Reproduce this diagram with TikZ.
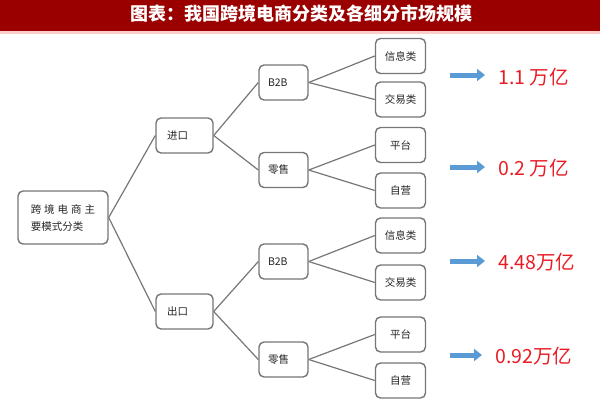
\documentclass[tikz,border=0pt]{standalone}
\usepackage{fontspec}
\newfontfamily\cjk{Noto Sans CJK SC}
\usetikzlibrary{arrows.meta}
\definecolor{titlered}{RGB}{155,0,0}
\definecolor{boxgray}{RGB}{118,118,118}
\definecolor{flowblue}{RGB}{91,155,213}
\definecolor{valred}{RGB}{232,28,36}

\begin{document}
\begin{tikzpicture}
	[x=1pt,y=-1pt,
	every node/.style={font=\cjk\fontsize{10.5}{13}\selectfont,text=black!85},
	box/.style={draw=boxgray,line width=1.4pt,rounded corners=5pt,fill=white,minimum height=35pt},
	rootbox/.style={box,minimum width=90pt,minimum height=53pt,align=left,inner xsep=12pt},
	sidebox/.style={box,inner xsep=11pt,text width=35pt,align=left},
	midbox/.style={box,inner xsep=9pt,text width=31pt,align=left},
	leafbox/.style={box,minimum width=50pt,inner xsep=2pt},
	link/.style={draw=boxgray,line width=1.2pt},
	flow/.style={draw=flowblue,line width=5pt,-{Triangle[length=8pt,width=12pt]},shorten >=13pt},
	value/.style={anchor=west,inner sep=0pt,text=valred,font=\cjk\fontsize{19.5}{22}\selectfont}]
	\useasboundingbox (0,0) rectangle (600,400);
	% title bar
	\fill[titlered] (0,0) rectangle (600,31);
	\fill[red!20] (0,31) rectangle (600,33.5);
	\node[text=white,font=\cjk\bfseries\fontsize{18}{20}\selectfont] (title) at (301,14) {图表：我国跨境电商分类及各细分市场规模};
	% tree
	\node[rootbox] (root) at (63,217.5) {跨\hspace{3pt}境\hspace{3pt}电\hspace{3pt}商\hspace{3pt}主\\[4pt]要模式分类};
	\node[sidebox] (imp) at (184.5,135.5) {进口};
	\node[sidebox] (exp) at (184.5,311.5) {出口};
	\node[midbox] (impb) at (283.5,82.5) {B2B};
	\node[midbox] (impr) at (283.5,170) {零售};
	\node[midbox] (expb) at (283.5,261.5) {B2B};
	\node[midbox] (expr) at (283.5,359.5) {零售};
	\node[leafbox] (impbi) at (400.5,56) {信息类};
	\node[leafbox] (impbt) at (400.5,99.5) {交易类};
	\node[leafbox] (imprp) at (400.5,145) {平台};
	\node[leafbox] (imprs) at (400.5,190.5) {自营};
	\node[leafbox] (expbi) at (400.5,235.5) {信息类};
	\node[leafbox] (expbt) at (400.5,282.5) {交易类};
	\node[leafbox] (exprp) at (400.5,334.5) {平台};
	\node[leafbox] (exprs) at (400.5,380.5) {自营};
	\foreach \a/\b in {root/imp,root/exp,imp/impb,imp/impr,exp/expb,exp/expr,
		impb/impbi,impb/impbt,impr/imprp,impr/imprs,
		expb/expbi,expb/expbt,expr/exprp,expr/exprs}
		\draw[link] (\a.east) -- (\b.west);
	% market sizes
	\node[value] (v1) at (498,77) {1.1 万亿};
	\node[value] (v2) at (498,168) {0.2 万亿};
	\node[value] (v3) at (498,262) {4.48万亿};
	\node[value] (v4) at (495,356) {0.92万亿};
	\coordinate (s1) at (450,75);
	\coordinate (s2) at (450,167);
	\coordinate (s3) at (450,261);
	\coordinate (s4) at (450,355);
	\foreach \i in {1,...,4}
		\draw[flow] (s\i) -- (s\i -| v\i.west);
\end{tikzpicture}
\end{document}
